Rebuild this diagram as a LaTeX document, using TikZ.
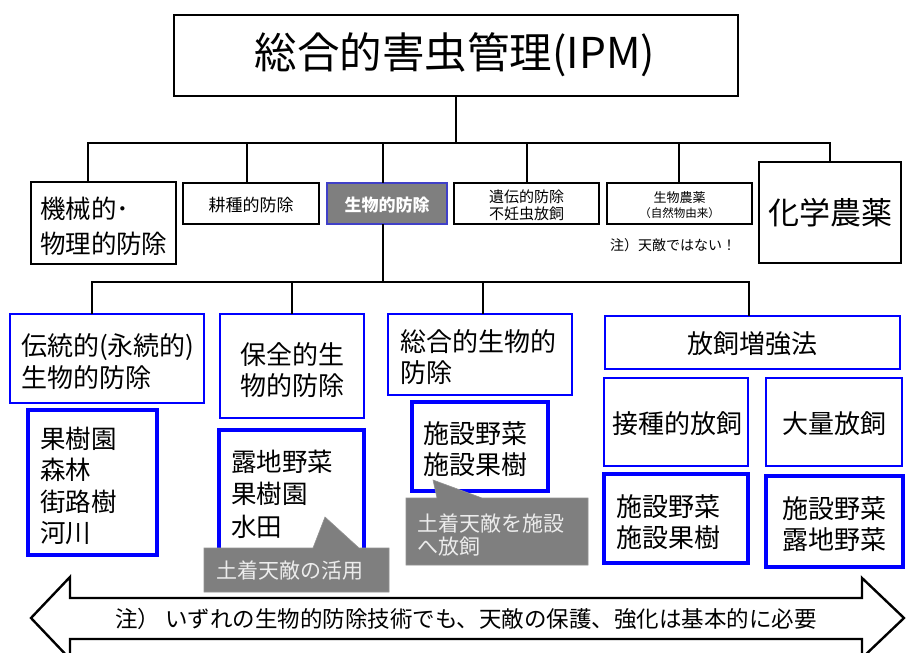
\documentclass[tikz,border=0pt]{standalone}
\usepackage{fontspec}
\setmainfont{Noto Sans CJK JP}
\definecolor{bbl}{RGB}{0,0,255}
\definecolor{gfill}{RGB}{127,127,127}
\definecolor{gtext}{RGB}{236,236,236}
\definecolor{selb}{RGB}{64,64,200}
\newcommand{\fz}[2]{\fontsize{#1}{#2}\selectfont}
\begin{document}
\begin{tikzpicture}[x=1pt,y=-1pt,
  every node/.style={inner sep=0pt, outer sep=0pt},
  bbox/.style={draw=black, line width=1.8pt, fill=white, rectangle},
  selbox/.style={draw=selb, line width=2pt, fill=gfill, rectangle},
  blbox/.style={draw=bbl, line width=1.8pt, fill=white, rectangle},
  blthick/.style={draw=bbl, line width=3.3pt, fill=white, rectangle},
  conn/.style={draw=black, line width=2.8pt, line join=miter},
  callout/.style={fill=gfill, draw=gfill!85!white, line width=0.6pt},
  ctext/.style={text=gtext},
  bigarrow/.style={draw=black, line width=2.4pt, fill=white, line join=miter}]
\useasboundingbox (0,0) rectangle (924,653);
\fill[white] (0,0) rectangle (924,653);

% junction coordinates
\coordinate (j0) at (456,143);
\coordinate (ja) at (88,143);
\coordinate (jb) at (247,143);
\coordinate (jc) at (383,143);
\coordinate (jd) at (527,143);
\coordinate (je) at (679,143);
\coordinate (jf) at (830,143);
\coordinate (k0) at (383,282);
\coordinate (ka) at (92,282);
\coordinate (kb) at (292,282);
\coordinate (kc) at (483,282);
\coordinate (kd) at (749,282);

% level 1 and 2 boxes
\node[bbox, minimum width=564pt, minimum height=81pt] (top) at (456,55.5) {};
\node[bbox, minimum width=145pt, minimum height=82pt] (kikai) at (103.5,223) {};
\node[bbox, minimum width=136pt, minimum height=41pt] (kosyu) at (251,203.5) {};
\node[selbox, minimum width=120pt, minimum height=41pt] (seibutsu) at (387,203.5) {};
\node[bbox, minimum width=145pt, minimum height=41pt] (iden) at (526.5,203.5) {};
\node[bbox, minimum width=145pt, minimum height=41pt] (noyaku) at (679.5,203.5) {};
\node[bbox, minimum width=142pt, minimum height=101pt] (kagaku) at (830,212.5) {};

% level 1 connectors
\draw[conn] (top.south) -- (j0);
\draw[conn] (ja |- kikai.north) -- (ja) -- (jf) -- (jf |- kagaku.north);
\draw[conn] (jb) -- (jb |- kosyu.north);
\draw[conn] (jc) -- (jc |- seibutsu.north);
\draw[conn] (jd) -- (jd |- iden.north);
\draw[conn] (je) -- (je |- noyaku.north);

% level 3 boxes
\node[blbox, minimum width=194pt, minimum height=89pt] (dento) at (107,358.5) {};
\node[blbox, minimum width=144pt, minimum height=104pt] (hozen) at (292,366) {};
\node[blbox, minimum width=184pt, minimum height=81pt] (sogo) at (480,354.5) {};
\node[blbox, minimum width=295pt, minimum height=53pt] (hoshi) at (752.5,342.5) {};
\node[blbox, minimum width=144pt, minimum height=88pt] (sessyu) at (676,422) {};
\node[blbox, minimum width=136pt, minimum height=88pt] (tairyo) at (834,422) {};

% level 2 connectors
\draw[conn] (k0 |- seibutsu.south) -- (k0);
\draw[conn] (ka |- dento.north) -- (ka) -- (kd) -- (kd |- hoshi.north);
\draw[conn] (kb) -- (kb |- hozen.north);
\draw[conn] (kc) -- (kc |- sogo.north);

% list boxes
\node[blthick, minimum width=129pt, minimum height=145pt] (list1) at (92.5,482.5) {};
\node[blthick, minimum width=145pt, minimum height=128pt] (list2) at (291.5,494) {};
\node[blthick, minimum width=136pt, minimum height=89pt] (list3) at (480,446.5) {};
\node[blthick, minimum width=144pt, minimum height=89pt] (list4) at (676,518.5) {};
\node[blthick, minimum width=137pt, minimum height=91pt] (list5) at (834.5,521.5) {};

% callouts
\path[callout] (204,548) -- (313,548) -- (325,517) -- (359,548) -- (389,548)
  -- (389,592) -- (204,592) -- cycle;
\path[callout] (406,498) -- (437,498) -- (433,480) -- (482,498) -- (588,498)
  -- (588,565) -- (406,565) -- cycle;

% big double arrow
\begin{scope}
\clip (0,0) rectangle (924,653);
\path[bigarrow] (31,618) -- (70,577) -- (70,598) -- (862,598) -- (862,578)
  -- (904,618) -- (862,658) -- (862,639) -- (70,639) -- (70,659) -- cycle;
\end{scope}

% texts
\node[font=\fz{42.5}{48}] (ttop) at (455,55) {総合的害虫管理(IPM)};
\node[font=\fz{25.5}{35}, align=left, anchor=west] (tkikai) at (40,226) {機械的･\\物理的防除};
\node[font=\fz{17}{20}] (tkosyu) at (251,205) {耕種的防除};
\node[font=\fz{17}{20}\bfseries, text=white] (tseibutsu) at (387,205) {生物的防除};
\node[font=\fz{15}{17}, align=center] (tiden) at (526.5,205.5) {遺伝的防除\\不妊虫放飼};
\node[font=\fz{13}{15}] (tnoyaku1) at (679.5,197.5) {生物農薬};
\node[font=\fz{11.5}{14}] (tnoyaku2) at (679.5,213.5) {（自然物由来）};
\node[font=\fz{14}{16}] (tnote) at (673,245) {注）天敵ではない！};
\node[font=\fz{31}{36}] (tkagaku) at (830,213) {化学農薬};

\node[font=\fz{26}{32}, align=left, anchor=west] (tdento) at (21,362) {伝統的(永続的)\\生物的防除};
\node[font=\fz{26}{31}, align=center] (thozen) at (292,370.5) {保全的生\\物的防除};
\node[font=\fz{26}{31}, align=left, anchor=west] (tsogo) at (400,357.5) {総合的生物的\\防除};
\node[font=\fz{26}{31}] (thoshi) at (752,344) {放飼増強法};
\node[font=\fz{26}{31}] (tsessyu) at (677,424) {接種的放飼};
\node[font=\fz{26}{31}] (ttairyo) at (834,424) {大量放飼};

\node[font=\fz{25.5}{31.5}, align=left, anchor=west] (tlist1) at (40,486) {果樹園\\森林\\街路樹\\河川};
\node[font=\fz{25.5}{32.5}, align=left, anchor=west] (tlist2) at (231,494) {露地野菜\\果樹園\\水田};
\node[font=\fz{26}{31}, align=left, anchor=west] (tlist3) at (423,449.5) {施設野菜\\施設果樹};
\node[font=\fz{26}{31}, align=left, anchor=west] (tlist4) at (616,522.5) {施設野菜\\施設果樹};
\node[font=\fz{26}{31}, align=center] (tlist5) at (834.5,524) {施設野菜\\露地野菜};

\node[font=\fz{21}{23}, ctext] (tc1) at (290,571) {土着天敵の活用};
\node[font=\fz{21}{23}, ctext, align=left, anchor=west] (tc2) at (417,535) {土着天敵を施設\\へ放飼};

\node[font=\fz{22.5}{24}] (tarrow) at (466,619) {注） いずれの生物的防除技術でも、天敵の保護、強化は基本的に必要};
\end{tikzpicture}
\end{document}
